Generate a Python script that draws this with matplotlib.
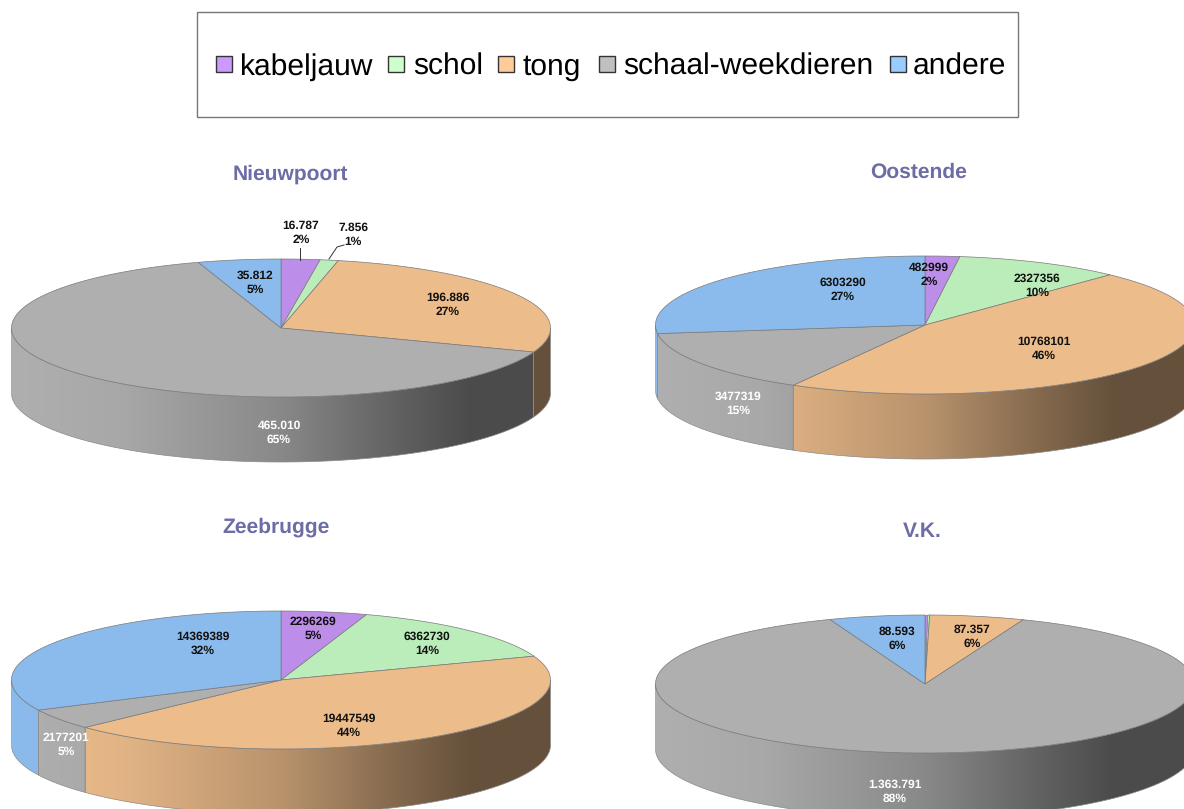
import numpy as np
import matplotlib
matplotlib.use("Agg")
import matplotlib.pyplot as plt
from matplotlib.patches import Polygon, Rectangle

plt.rcParams['font.family'] = ['Liberation Sans', 'DejaVu Sans']
plt.rcParams['text.hinting'] = 'no_hinting'
plt.rcParams['text.hinting_factor'] = 1

# ---- data ----
species = ["kabeljauw", "schol", "tong", "schaal-weekdieren", "andere"]
nieuwpoort_values = [16787, 7856, 196886, 465010, 35812]
oostende_values = [482999, 2327356, 10768101, 3477319, 6303290]
zeebrugge_values = [2296269, 6362730, 19447549, 2177201, 14369389]
vk_values = [2500, 1800, 87357, 1363791, 88593]

nieuwpoort_labels = ["16.787\n2%", "7.856\n1%", "196.886\n27%", "465.010\n65%", "35.812\n5%"]
oostende_labels = ["482999\n2%", "2327356\n10%", "10768101\n46%", "3477319\n15%", "6303290\n27%"]
zeebrugge_labels = ["2296269\n5%", "6362730\n14%", "19447549\n44%", "2177201\n5%", "14369389\n32%"]
vk_labels = [None, None, "87.357\n6%", "1.363.791\n88%", "88.593\n6%"]

# ---- styling / layout (pixels) ----
top_colors = ["#BC8DE9", "#BBEDBA", "#ECBC8B", "#AFAFAF", "#8BBBEC"]
legend_colors = ["#CC99FF", "#CCFFCC", "#FFCC99", "#C0C0C0", "#99CCFF"]
legend_swatch_x = [216, 388, 498, 599, 890]
legend_text_x = [240, 413, 523, 623, 913]
title_color = "#6C6CA6"
RX, RY, DEPTH = 269.5, 69, 65

pies = [
    dict(title="Nieuwpoort", values=nieuwpoort_values, labels=nieuwpoort_labels,
         center=(281, 328), title_pos=(290, 174),
         label_pos=[(301, 233), (353, 235), (448, 305), (279, 433), (255, 282.5)]),
    dict(title="Oostende", values=oostende_values, labels=oostende_labels,
         center=(925, 325), title_pos=(919, 172),
         label_pos=[(929, 274.5), (1037, 285.5), (1044, 348.5), (738, 403.5), (843, 289.5)]),
    dict(title="Zeebrugge", values=zeebrugge_values, labels=zeebrugge_labels,
         center=(281, 680), title_pos=(276, 527),
         label_pos=[(313, 628.5), (427, 643.5), (349, 725.5), (66, 744.5), (203, 643.5)]),
    dict(title="V.K.", values=vk_values, labels=vk_labels,
         center=(925, 684), title_pos=(922, 532),
         label_pos=[None, None, (972, 636.5), (895, 792), (897, 638.5)]),
]

fig = plt.figure(figsize=(11.84, 8.09), dpi=100)
ax = fig.add_axes([0, 0, 1, 1])
ax.axis("off")

stops_t = [0.0, 0.2, 0.5, 0.72, 0.85, 1.0]
stops_m = [1.0, 0.96, 0.78, 0.55, 0.43, 0.43]


def arc(cx, cy, a0, a1, n=120):
    th = np.radians(np.linspace(a0, a1, n))
    return cx + RX * np.sin(th), cy - RY * np.cos(th)


for pie in pies:
    cx, cy = pie["center"]
    vals = np.asarray(pie["values"], dtype=float)
    edges = np.concatenate([[0], np.cumsum(vals) / vals.sum() * 360])

    # side walls: only the part of each slice facing the viewer
    for i, col in enumerate(top_colors):
        a0, a1 = max(edges[i], 90), min(edges[i + 1], 270)
        if a1 <= a0:
            continue
        x, y = arc(cx, cy, a0, a1)
        verts = np.column_stack([np.r_[x, x[::-1]], np.r_[y, y[::-1] + DEPTH]])
        poly = Polygon(verts, closed=True, facecolor="none", edgecolor="#8a8a8a",
                       linewidth=0.5, zorder=2.5)
        t = np.linspace(0, 1, 256)
        m = np.interp(t, stops_t, stops_m)
        rgb = np.array(matplotlib.colors.to_rgb(col))
        grad = (m[:, None] * rgb)[None, :, :]
        im = ax.imshow(grad, extent=(cx - RX, cx + RX, cy + RY + DEPTH, cy - RY),
                       aspect="auto", interpolation="bilinear", zorder=2)
        ax.add_patch(poly)
        im.set_clip_path(poly)

    # top faces
    for i, col in enumerate(top_colors):
        x, y = arc(cx, cy, edges[i], edges[i + 1])
        verts = np.column_stack([np.r_[cx, x], np.r_[cy, y]])
        ax.add_patch(Polygon(verts, closed=True, facecolor=col, edgecolor="#7a7a7a",
                             linewidth=0.5, zorder=3))

    ax.text(*pie["title_pos"], pie["title"], ha="center", va="center", fontsize=15,
            fontweight="bold", color=title_color, zorder=5)

    for i, (lab, pos) in enumerate(zip(pie["labels"], pie["label_pos"])):
        if lab is None:
            continue
        ax.text(*pos, lab, ha="center", va="center", fontsize=8.7, fontweight="bold",
                color="white" if i == 3 else "#111111", linespacing=1.28, zorder=5)

# leader lines (Nieuwpoort)
ax.plot([300, 300], [248, 260], color="#333333", lw=0.7, zorder=4)
ax.plot([329, 337, 344], [259, 247, 245], color="#333333", lw=0.7, zorder=4)

# legend (drawn by hand so that all entries share one text baseline)
ax.add_patch(Rectangle((197, 12), 820.5, 104.5, facecolor="white", edgecolor="#777777",
                       linewidth=1.0, zorder=1))
for name, col, sx, tx in zip(species, legend_colors, legend_swatch_x, legend_text_x):
    ax.add_patch(Rectangle((sx, 56), 16, 16, facecolor=col, edgecolor="#333333",
                           linewidth=1.0, zorder=2))
    ax.text(tx, 74.5, name, ha="left", va="baseline", fontsize=21.5, color="black", zorder=2)

ax.set_xlim(0, 1184)
ax.set_ylim(809, 0)
fig.savefig("out.png", dpi=100)
